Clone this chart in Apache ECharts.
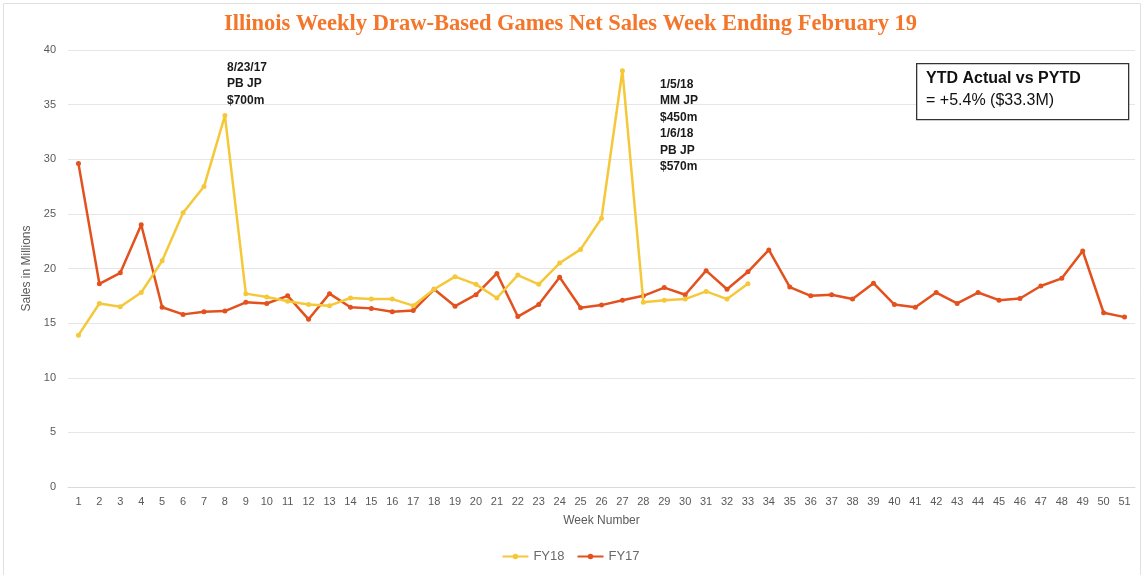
<!DOCTYPE html>
<html><head><meta charset="utf-8">
<script src="https://cdn.jsdelivr.net/npm/echarts@6/dist/echarts.min.js"></script>
<style>html,body{margin:0;padding:0;background:#fff}#c{width:1141px;height:575px}</style>
</head><body><div id="c"></div>
<script>
const weeks = Array.from({length:51},(_,i)=>String(i+1));
const fy18 = [13.9,16.8,16.5,17.8,20.7,25.1,27.5,34.0,17.7,17.4,17.0,16.7,16.6,17.3,17.2,17.2,16.6,18.1,19.25,18.55,17.3,19.4,18.55,20.5,21.75,24.6,38.1,16.9,17.1,17.2,17.9,17.2,18.6];
const fy17 = [29.6,18.6,19.6,24.0,16.45,15.8,16.05,16.1,16.9,16.8,17.5,15.35,17.7,16.45,16.35,16.05,16.15,18.1,16.55,17.6,19.55,15.6,16.7,19.2,16.4,16.65,17.1,17.5,18.25,17.6,19.8,18.1,19.7,21.7,18.3,17.5,17.6,17.2,18.65,16.7,16.45,17.8,16.8,17.8,17.1,17.25,18.4,19.1,21.6,15.95,15.55];
const yTicks = [0,5,10,15,20,25,30,35,40];
const seriesNames = ['FY18','FY17'];
const note1 = ['8/23/17','PB JP','$700m'];
const note2 = ['1/5/18','MM JP','$450m','1/6/18','PB JP','$570m'];
const boxTitle = 'YTD Actual vs PYTD';
const boxValue = '= +5.4% ($33.3M)';
const chartTitle = 'Illinois Weekly Draw-Based Games Net Sales Week Ending February 19';

const chart = echarts.init(document.getElementById('c'));
const grey = '#595959';
chart.setOption({
  animation:false,
  backgroundColor:'#fff',
  title:{text:chartTitle,left:'center',top:8,textStyle:{fontFamily:'Liberation Serif',fontWeight:'bold',fontSize:22.5,color:'#F4762B'}},
  grid:{left:68,right:6,top:50,bottom:88},
  legend:{bottom:7,left:'center',itemWidth:26,itemHeight:7,itemGap:12,textStyle:{color:'#6a6a6a',fontSize:13,fontFamily:'Liberation Sans'},data:seriesNames},
  xAxis:{type:'category',data:weeks,boundaryGap:true,name:'Week Number',nameLocation:'middle',nameGap:28,
    nameTextStyle:{color:grey,fontSize:12,fontFamily:'Liberation Sans'},
    axisLine:{lineStyle:{color:'#d9d9d9'}},axisTick:{show:false},
    axisLabel:{color:grey,fontSize:11,fontFamily:'Liberation Sans',interval:0,margin:9}},
  yAxis:{type:'value',min:0,max:40,interval:5,name:'Sales in Millions',nameLocation:'middle',nameGap:30,
    nameTextStyle:{color:grey,fontSize:12,fontFamily:'Liberation Sans'},
    axisLine:{show:false},axisTick:{show:false},
    axisLabel:{color:grey,fontSize:11,fontFamily:'Liberation Sans',margin:12},
    splitLine:{lineStyle:{color:'#e6e6e6',width:1}}},
  series:[
    {name:'FY18',type:'line',data:fy18,symbol:'circle',symbolSize:5,color:'#F5C83A',lineStyle:{width:2.5,color:'#F5C83A'},itemStyle:{color:'#F5C83A'},z:3},
    {name:'FY17',type:'line',data:fy17,symbol:'circle',symbolSize:5,color:'#E2511E',lineStyle:{width:2.5,color:'#E2511E'},itemStyle:{color:'#E2511E'},z:2}
  ],
  graphic:[
    {type:'rect',left:1,top:1,z:100,shape:{width:1137,height:572},style:{fill:'none',stroke:'#e0e0e0',lineWidth:1},silent:true},
    {type:'text',left:227,top:59,z:100,style:{text:note1.join('\n'),font:'bold 12px Liberation Sans',lineHeight:16.5,fill:'#1a1a1a'}},
    {type:'text',left:660,top:76,z:100,style:{text:note2.join('\n'),font:'bold 12px Liberation Sans',lineHeight:16.5,fill:'#1a1a1a'}},
    {type:'rect',left:916,top:63,z:100,shape:{width:212,height:56},style:{fill:'#fff',stroke:'#333',lineWidth:1.3}},
    {type:'text',left:926,top:71,z:101,style:{text:boxTitle,font:'bold 16px Liberation Sans',fill:'#111'}},
    {type:'text',left:926,top:93,z:101,style:{text:boxValue,font:'16px Liberation Sans',fill:'#111'}}
  ]
});
</script></body></html>
